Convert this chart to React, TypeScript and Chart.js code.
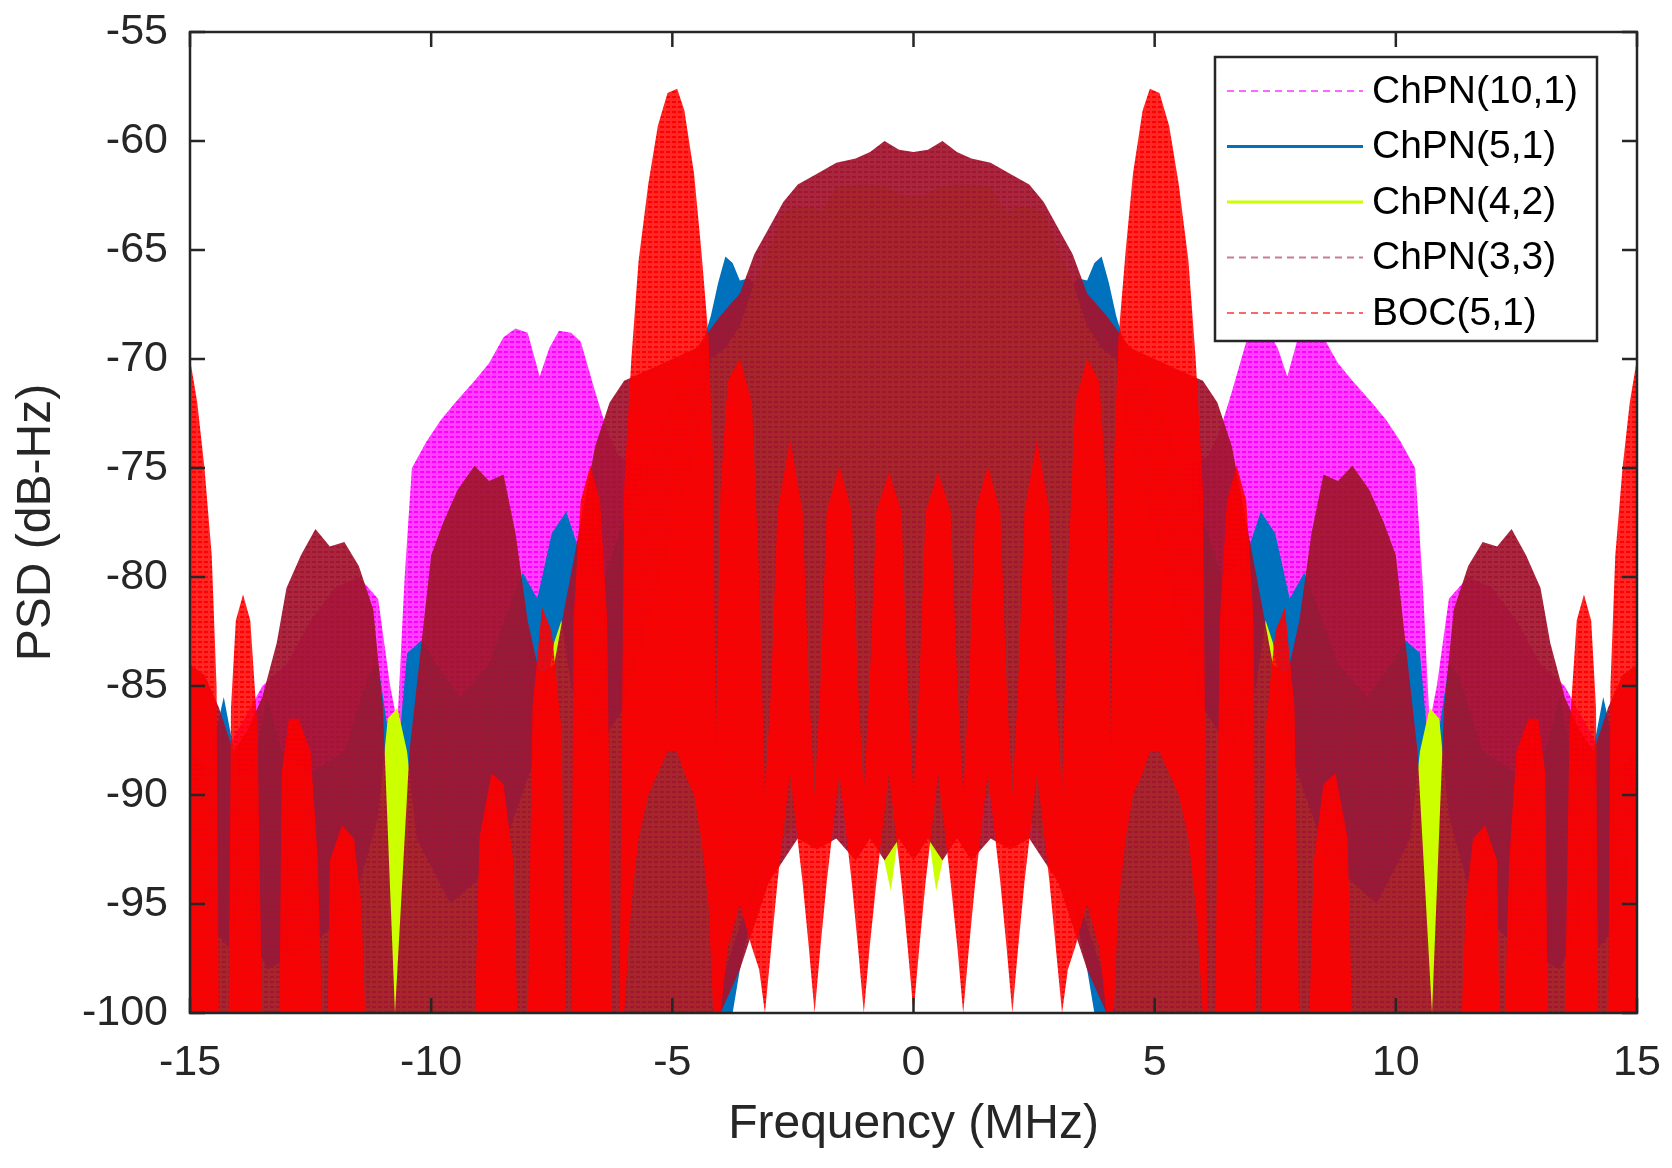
import { useEffect, useRef } from 'react'
import { Chart, registerables, Plugin } from 'chart.js'

Chart.register(...registerables)

const FONT = "'Liberation Sans', Arial, Helvetica, sans-serif"
const AXIS = '#262626'

const seriesNames = ['ChPN(10,1)', 'ChPN(5,1)', 'ChPN(4,2)', 'ChPN(3,3)', 'BOC(5,1)']

const xTicks = [-15, -10, -5, 0, 5, 10, 15]
const yTicks = [-100, -95, -90, -85, -80, -75, -70, -65, -60, -55]

// ChPN(10,1) upper / lower envelope (dB-Hz)
const chpn101Freq = [
  -15, -14.5, -14, -13.5, -13, -12.5, -12, -11.5, -11.1, -10.85, -10.7, -10.55, -10.4, -10.1, -9.8, -9.5,
  -9.1, -8.8, -8.5, -8.25, -8, -7.75, -7.55, -7.35, -7.1, -6.9, -6.6, -6.35, -6.1, -5.5, -5, -4.5, -4, -3,
  -2, -1, 0,
  1, 2, 3, 4, 4.5, 5, 5.5, 6.1, 6.35, 6.6, 6.9, 7.1, 7.35, 7.55, 7.75, 8, 8.25, 8.5, 8.8, 9.1, 9.5, 9.8,
  10.1, 10.4, 10.55, 10.7, 10.85, 11.1, 11.5, 12, 12.5, 13, 13.5, 14, 14.5, 15,
]
const chpn101Upper = [
  -88, -89, -87, -85, -84, -82, -80.5, -80, -81, -85, -86.7, -80, -75, -73.8, -72.8, -72,
  -71, -70.2, -69, -68.6, -68.8, -70.8, -69.5, -68.7, -68.8, -69.2, -71.5, -73.3, -74.5, -75, -75, -76, -77, -76,
  -74, -73, -73,
  -73, -74, -76, -77, -76, -75, -75, -74.5, -73.3, -71.5, -69.2, -68.8, -68.7, -69.5, -70.8, -68.8, -68.6, -69, -70.2, -71, -72, -72.8,
  -73.8, -75, -80, -86.7, -85, -81, -80, -80.5, -82, -84, -85, -87, -89, -88,
]
const chpn101Lower = [
  -100, -100, -100, -100, -100, -100, -100, -100, -100, -100, -100, -100, -100, -100, -100, -100,
  -100, -100, -100, -100, -100, -100, -100, -100, -100, -100, -100, -100, -100, -100, -100, -100, -100, -90,
  -86, -86, -86,
  -86, -86, -90, -100, -100, -100, -100, -100, -100, -100, -100, -100, -100, -100, -100, -100, -100, -100, -100, -100, -100, -100,
  -100, -100, -100, -100, -100, -100, -100, -100, -100, -100, -100, -100, -100, -100,
]

// ChPN(5,1) upper / lower envelope
const chpn51Freq = [
  -15, -14.6, -14.3, -14, -13.7, -13.4, -13.1, -12.5, -11.8, -11.3, -11.1, -10.9, -10.7, -10.5, -10.2, -9.9,
  -9.4, -8.8, -8.4, -8.1, -7.8, -7.5, -7.2, -6.9, -6.4, -5.8, -5, -4.4, -4.2, -4.05, -3.9, -3.75, -3.6, -3.4,
  -3.25, -3.15, -2.8, -2, -1, 0,
  1, 2, 2.8, 3.15, 3.25, 3.4, 3.6, 3.75, 3.9, 4.05, 4.2, 4.4, 5, 5.8, 6.4, 6.9, 7.2, 7.5, 7.8, 8.1, 8.4, 8.8,
  9.4, 9.9, 10.2, 10.5, 10.7, 10.9, 11.1, 11.3, 11.8, 12.5, 13.1, 13.4, 13.7, 14, 14.3, 14.6, 15,
]
const chpn51Upper = [
  -90, -88.5, -85.5, -89, -89, -85.5, -88, -89, -88, -84.5, -84, -87, -88.5, -83.5, -82.9, -84,
  -85.5, -84, -81.5, -79.8, -81, -78, -77, -79, -80, -76, -72, -69.5, -68, -66.5, -65.3, -65.6, -66.4, -66.3,
  -66.8, -70, -71, -69, -68, -68,
  -68, -69, -71, -70, -66.8, -66.3, -66.4, -65.6, -65.3, -66.5, -68, -69.5, -72, -76, -80, -79, -77, -78, -81, -79.8, -81.5, -84,
  -85.5, -84, -82.9, -83.5, -88.5, -87, -84, -84.5, -88, -89, -88, -85.5, -89, -89, -85.5, -88.5, -90,
]
const chpn51Lower = [
  -100, -100, -100, -100, -100, -100, -100, -100, -100, -100, -100, -100, -100, -100, -100, -100,
  -100, -100, -100, -100, -100, -100, -100, -100, -100, -100, -100, -100, -100, -100, -100, -100, -98, -96,
  -94, -91, -89, -88, -88, -88,
  -88, -88, -89, -91, -94, -96, -98, -100, -100, -100, -100, -100, -100, -100, -100, -100, -100, -100, -100, -100, -100, -100,
  -100, -100, -100, -100, -100, -100, -100, -100, -100, -100, -100, -100, -100, -100, -100, -100, -100,
]

// ChPN(4,2) upper / lower envelope
const chpn42Freq = [
  -15, -14.6, -14.2, -14, -13.9, -13.8, -13.4, -12.5, -11.6, -11.1, -10.9, -10.7, -10.5, -10.3, -9.6, -8.6,
  -7.8, -7.45, -7.3, -7.1, -6.6, -6, -5.5, -5, -4.5, -4.2, -3.9, -3.6, -3.3, -3, -2.7, -2.5, -2.2, -1.9, -1.6,
  -1.2, -0.8, -0.47, -0.2, 0,
  0.2, 0.47, 0.8, 1.2, 1.6, 1.9, 2.2, 2.5, 2.7, 3, 3.3, 3.6, 3.9, 4.2, 4.5, 5, 5.5, 6, 6.6, 7.1, 7.3, 7.45,
  7.8, 8.6, 9.6, 10.3, 10.5, 10.7, 10.9, 11.1, 11.6, 12.5, 13.4, 13.8, 13.9, 14, 14.2, 14.6, 15,
]
const chpn42Upper = [
  -91, -96, -97, -95, -93.5, -96, -98, -97, -95, -91, -86.5, -86, -88, -92, -95, -93,
  -88, -83, -82, -85, -88, -86, -82, -78, -74, -70, -69.5, -68.5, -66.5, -65, -63.3, -63.1, -63, -63.2, -62.1,
  -62, -62, -62.2, -62.5, -62.5,
  -62.5, -62.2, -62, -62, -62.1, -63.2, -63, -63.1, -63.3, -65, -66.5, -68.5, -69.5, -70, -74, -78, -82, -86, -88, -85, -82, -83,
  -88, -93, -95, -92, -88, -86, -86.5, -91, -95, -97, -98, -96, -93.5, -95, -97, -96, -91,
]
const chpn42Lower = [
  -100, -100, -100, -100, -100, -100, -100, -100, -100, -100, -100, -100, -100, -100, -100, -100,
  -100, -100, -100, -100, -100, -100, -100, -100, -100, -100, -98, -96, -94, -93, -92, -91.5, -90, -90, -90,
  -90, -91, -94.4, -90, -90,
  -90, -94.4, -91, -90, -90, -90, -90, -91.5, -92, -93, -94, -96, -98, -100, -100, -100, -100, -100, -100, -100, -100, -100,
  -100, -100, -100, -100, -100, -100, -100, -100, -100, -100, -100, -100, -100, -100, -100, -100, -100,
]

// ChPN(3,3) upper / lower envelope
const chpn33Freq = [
  -15, -14.7, -14.4, -14.1, -13.8, -13.5, -13.2, -13, -12.7, -12.4, -12.1, -11.8, -11.5, -11.2, -11, -10.75,
  -10.45, -10.2, -10, -9.75, -9.45, -9.1, -8.8, -8.5, -8.25, -8, -7.75, -7.45, -7.2, -6.9, -6.6, -6.3, -6,
  -5.5, -5, -4.5, -4, -3.6, -3.3, -3, -2.7, -2.4, -2, -1.6, -1.2, -0.9, -0.6, -0.3, 0,
  0.3, 0.6, 0.9, 1.2, 1.6, 2, 2.4, 2.7, 3, 3.3, 3.6, 4, 4.5, 5, 5.5, 6, 6.3, 6.6, 6.9, 7.2, 7.45, 7.75, 8,
  8.25, 8.5, 8.8, 9.1, 9.45, 9.75, 10, 10.2, 10.45, 10.75, 11, 11.2, 11.5, 11.8, 12.1, 12.4, 12.7, 13, 13.2,
  13.5, 13.8, 14.1, 14.4, 14.7, 15,
]
const chpn33Upper = [
  -84, -84.5, -86, -88, -87, -85.5, -83, -80.5, -79, -77.8, -78.6, -78.4, -79.5, -81.5, -86, -100,
  -88, -83, -79, -77.5, -76, -74.9, -75.6, -75.3, -78, -82, -84.5, -84, -81, -77.5, -74, -72, -71,
  -70.5, -70, -69.5, -68, -67, -65.2, -64, -62.8, -62, -61.5, -61, -60.8, -60.5, -60, -60.4, -60.5,
  -60.4, -60, -60.5, -60.8, -61, -61.5, -62, -62.8, -64, -65.2, -67, -68, -69.5, -70, -70.5, -71, -72, -74, -77.5, -81, -84, -84.5, -82,
  -78, -75.3, -75.6, -74.9, -76, -77.5, -79, -83, -88, -100, -86, -81.5, -79.5, -78.4, -78.6, -77.8, -79, -80.5, -83,
  -85.5, -87, -88, -86, -84.5, -84,
]
const chpn33Lower = [
  -100, -100, -100, -100, -100, -100, -100, -100, -100, -100, -100, -100, -100, -100, -100, -100,
  -100, -100, -100, -100, -100, -100, -100, -100, -100, -100, -100, -100, -100, -100, -100, -100, -100,
  -100, -100, -100, -100, -98, -96, -94, -93, -92, -92.5, -92, -93, -92, -93, -92, -93,
  -92, -93, -92, -93, -92, -92.5, -92, -93, -94, -96, -98, -100, -100, -100, -100, -100, -100, -100, -100, -100, -100, -100, -100,
  -100, -100, -100, -100, -100, -100, -100, -100, -100, -100, -100, -100, -100, -100, -100, -100, -100, -100, -100,
  -100, -100, -100, -100, -100, -100,
]

// BOC(5,1) upper / lower envelope (-101 = below the axis)
const boc51Freq = [
  -15, -14.85, -14.7, -14.55, -14.45, -14.4, -14.2, -14.15, -14.05, -13.9, -13.75, -13.6, -13.5, -13.15,
  -13.1, -12.95, -12.75, -12.5, -12.35, -12.25, -12.15, -12.1, -11.85, -11.6, -11.45, -11.35, -9.1,
  -9, -8.75, -8.5, -8.3, -8.2, -8, -7.9, -7.7, -7.5, -7.3, -7.2, -7.1, -7.05, -6.9, -6.7, -6.5, -6.35,
  -6.25, -6.1, -6, -5.85, -5.7, -5.5, -5.3, -5.1, -4.9, -4.75, -4.55, -4.4, -4.25, -4.15,
  -4.1, -4, -3.85, -3.6, -3.35, -3.2, -3.08, -2.95, -2.82, -2.56, -2.3, -2.17, -2.05,
  -1.93, -1.8, -1.54, -1.28, -1.15, -1.03, -0.91, -0.77, -0.51, -0.25, -0.12, 0,
  0.12, 0.25, 0.51, 0.77, 0.91, 1.03, 1.15, 1.28, 1.54, 1.8, 1.93,
  2.05, 2.17, 2.3, 2.56, 2.82, 2.95, 3.08, 3.2, 3.35, 3.6, 3.85, 4, 4.1,
  4.15, 4.25, 4.4, 4.55, 4.75, 4.9, 5.1, 5.3, 5.5, 5.7, 5.85, 6, 6.1, 6.25,
  6.35, 6.5, 6.7, 6.9, 7.05, 7.1, 7.2, 7.3, 7.5, 7.7, 7.9, 8, 8.2, 8.3, 8.5, 8.75, 9,
  9.1, 11.35, 11.45, 11.6, 11.85, 12.1, 12.15, 12.25, 12.35, 12.5, 12.75, 12.95, 13.1,
  13.15, 13.5, 13.6, 13.75, 13.9, 14.05, 14.15, 14.2, 14.4, 14.45, 14.55, 14.7, 14.85, 15,
]
const boc51Upper = [
  -70, -72, -75, -79, -85, -101, -101, -86, -82, -80.8, -82, -87, -101, -101,
  -89, -86.5, -86.5, -88, -93, -101, -101, -93, -91.4, -92, -95, -101, -101,
  -92, -89, -89.5, -93, -101, -101, -86, -81.4, -82.5, -87, -101, -101, -82, -76.5, -74.9, -76.5, -82,
  -101, -101, -76, -70, -65.5, -62, -59.3, -57.8, -57.6, -58.6, -61.5, -65, -69, -75,
  -88, -76, -71, -70, -72, -80, -90, -85, -77, -73.7, -77, -85, -90,
  -85, -77, -74.9, -77, -85, -90, -85, -77, -75.2, -77, -85, -90,
  -85, -77, -75.2, -77, -85, -90, -85, -77, -74.9, -77, -85,
  -90, -85, -77, -73.7, -77, -85, -90, -80, -72, -70, -71, -76, -88,
  -75, -69, -65, -61.5, -58.6, -57.6, -57.8, -59.3, -62, -65.5, -70, -76, -101, -101,
  -82, -76.5, -74.9, -76.5, -82, -101, -101, -87, -82.5, -81.4, -86, -101, -101, -93, -89.5, -89, -92,
  -101, -101, -95, -92, -91.4, -93, -101, -101, -93, -88, -86.5, -86.5, -89,
  -101, -101, -87, -82, -80.8, -82, -86, -101, -101, -85, -79, -75, -72, -70,
]
const boc51Lower = [
  -100, -100, -100, -100, -100, -101, -101, -100, -100, -100, -100, -100, -101, -101,
  -100, -100, -100, -100, -100, -101, -101, -100, -100, -100, -100, -101, -101,
  -100, -100, -100, -100, -101, -101, -100, -100, -100, -100, -101, -101, -100, -100, -100, -100, -100,
  -101, -101, -100, -95, -92, -90, -89, -88, -88, -89, -90, -92, -95, -100,
  -100, -100, -97, -95, -97, -98, -100, -97, -94, -89, -94, -97, -100,
  -97, -94, -89, -94, -97, -100, -97, -94, -89, -94, -97, -100,
  -97, -94, -89, -94, -97, -100, -97, -94, -89, -94, -97,
  -100, -97, -94, -89, -94, -97, -100, -98, -97, -95, -97, -100, -100,
  -100, -95, -92, -90, -89, -88, -88, -89, -90, -92, -95, -100, -101, -101,
  -100, -100, -100, -100, -100, -101, -101, -100, -100, -100, -100, -101, -101, -100, -100, -100, -100,
  -101, -101, -100, -100, -100, -100, -101, -101, -100, -100, -100, -100, -100,
  -101, -101, -100, -100, -100, -100, -100, -101, -101, -100, -100, -100, -100, -100,
]

const fillColors = ['#ff00ff', '#0072bd', '#ccff00', '#a2142f', '#ff0000']
const legendColors = ['#ff66ff', '#0072bd', '#ccff00', '#cc7a99', '#ff6666']
const legendDash = [[7, 5], [], [], [7, 5], [7, 5]]

function pts(xs: number[], ys: number[]) {
  return xs.map((x, i) => ({ x, y: ys[i] }))
}

// dotted-line look: coloured dash rows over a semi-transparent base
function dashPattern(color: string, baseAlpha: number) {
  const c = document.createElement('canvas')
  c.width = 6
  c.height = 5
  const g = c.getContext('2d')!
  g.fillStyle = color
  g.globalAlpha = baseAlpha
  g.fillRect(0, 0, 6, 5)
  g.globalAlpha = 1
  g.fillRect(0, 1, 4, 2)
  return g.createPattern(c, 'repeat')!
}

const frameTicks: Plugin = {
  id: 'frameTicks',
  afterDatasetsDraw(chart) {
    const { ctx, chartArea: a } = chart
    const xs = chart.scales.x
    const ys = chart.scales.y
    ctx.save()
    ctx.strokeStyle = AXIS
    ctx.lineWidth = 2.5
    ctx.strokeRect(a.left, a.top, a.right - a.left, a.bottom - a.top)
    ctx.beginPath()
    xTicks.forEach((v) => {
      const px = xs.getPixelForValue(v)
      ctx.moveTo(px, a.bottom)
      ctx.lineTo(px, a.bottom - 15)
      ctx.moveTo(px, a.top)
      ctx.lineTo(px, a.top + 15)
    })
    yTicks.forEach((v) => {
      const py = ys.getPixelForValue(v)
      ctx.moveTo(a.left, py)
      ctx.lineTo(a.left + 15, py)
      ctx.moveTo(a.right, py)
      ctx.lineTo(a.right - 15, py)
    })
    ctx.stroke()
    ctx.restore()
  },
}

const boxLegend: Plugin = {
  id: 'boxLegend',
  afterDraw(chart) {
    const ctx = chart.ctx
    const left = 1215
    const top = 57
    const right = 1597
    const bottom = 341
    ctx.save()
    ctx.fillStyle = '#ffffff'
    ctx.fillRect(left, top, right - left, bottom - top)
    ctx.strokeStyle = AXIS
    ctx.lineWidth = 2.5
    ctx.strokeRect(left, top, right - left, bottom - top)
    ctx.font = `39px ${FONT}`
    ctx.textBaseline = 'middle'
    ctx.textAlign = 'left'
    seriesNames.forEach((name, i) => {
      const y = 91 + i * 55.5
      ctx.beginPath()
      ctx.setLineDash(legendDash[i])
      ctx.strokeStyle = legendColors[i]
      ctx.lineWidth = legendDash[i].length ? 2 : 3
      ctx.moveTo(1227, y)
      ctx.lineTo(1363, y)
      ctx.stroke()
      ctx.setLineDash([])
      ctx.fillStyle = '#000000'
      ctx.fillText(name, 1372, y + 1)
    })
    ctx.restore()
  },
}

export default function App() {
  const canvasRef = useRef<HTMLCanvasElement>(null)

  useEffect(() => {
    if (!canvasRef.current) return
    const base = { borderWidth: 0, borderColor: 'rgba(0,0,0,0)', pointRadius: 0, tension: 0 }
    const band = (i: number, xs: number[], hi: number[], lo: number[], bg: string | CanvasPattern, order: number) => [
      { ...base, label: seriesNames[i], data: pts(xs, hi), order, backgroundColor: bg, fill: '+1' },
      { ...base, label: '_low', data: pts(xs, lo), order, fill: false },
    ]

    const chart = new Chart(canvasRef.current, {
      type: 'line',
      data: {
        datasets: [
          ...band(0, chpn101Freq, chpn101Upper, chpn101Lower, dashPattern(fillColors[0], 0.75), 4),
          ...band(1, chpn51Freq, chpn51Upper, chpn51Lower, fillColors[1], 3),
          ...band(2, chpn42Freq, chpn42Upper, chpn42Lower, fillColors[2], 2),
          ...band(3, chpn33Freq, chpn33Upper, chpn33Lower, dashPattern(fillColors[3], 0.92), 1),
          ...band(4, boc51Freq, boc51Upper, boc51Lower, dashPattern(fillColors[4], 0.85), 0),
        ] as any,
      },
      options: {
        animation: false,
        responsive: true,
        maintainAspectRatio: false,
        events: [],
        layout: { padding: { top: 32, right: 35, left: 0, bottom: 0 } },
        plugins: {
          legend: { display: false },
          tooltip: { enabled: false },
          filler: { propagate: false },
        },
        scales: {
          x: {
            type: 'linear',
            min: -15,
            max: 15,
            grid: { display: false, drawTicks: false },
            border: { display: false },
            afterFit: (s: any) => {
              s.height = 155
              s.paddingLeft = 0
              s.paddingRight = 0
            },
            afterBuildTicks: (s) => { s.ticks = xTicks.map((v) => ({ value: v })) },
            ticks: { autoSkip: false, maxRotation: 0, padding: 24, color: AXIS, font: { family: FONT, size: 43 } },
            title: { display: true, text: 'Frequency (MHz)', color: AXIS, font: { family: FONT, size: 48 }, padding: { top: 0, bottom: 14 } },
          },
          y: {
            type: 'linear',
            min: -100,
            max: -55,
            grid: { display: false, drawTicks: false },
            border: { display: false },
            afterFit: (s: any) => {
              s.width = 190
              s.paddingTop = 0
              s.paddingBottom = 0
            },
            afterBuildTicks: (s) => { s.ticks = yTicks.map((v) => ({ value: v })) },
            ticks: { autoSkip: false, padding: 22, color: AXIS, font: { family: FONT, size: 43 } },
            title: { display: true, text: 'PSD (dB-Hz)', color: AXIS, font: { family: FONT, size: 48 }, padding: { top: 8, bottom: 0 } },
          },
        },
      },
      plugins: [frameTicks, boxLegend],
    })

    return () => chart.destroy()
  }, [])

  return (
    <div style={{ position: 'absolute', left: 0, top: 0, width: 1672, height: 1168, background: '#ffffff' }}>
      <canvas ref={canvasRef} />
    </div>
  )
}
